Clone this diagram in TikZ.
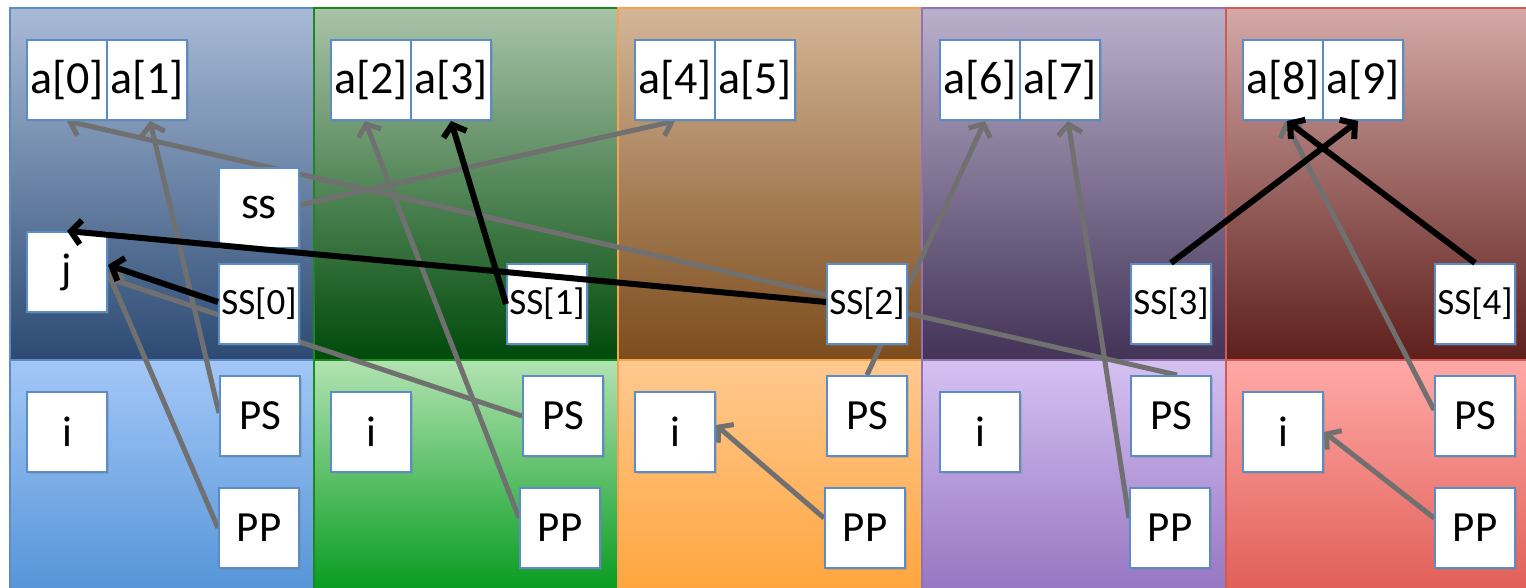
\documentclass[tikz,border=0pt]{standalone}
\usepackage{fontspec}
\setmainfont{Carlito}
\usetikzlibrary{arrows.meta,shadows}
\definecolor{boxblue}{RGB}{91,140,197}
\definecolor{arrgray}{RGB}{112,112,112}
% column colours: top-top, top-bottom, bottom-top, bottom-bottom, border
\definecolor{bTT}{HTML}{A8BBD7}\definecolor{bTB}{HTML}{2C4A73}\definecolor{bBT}{HTML}{A3C7F7}\definecolor{bBB}{HTML}{5393D7}\definecolor{bBD}{HTML}{5B8CC5}
\definecolor{gTT}{HTML}{A9C4A9}\definecolor{gTB}{HTML}{004A0A}\definecolor{gBT}{HTML}{B2E3B2}\definecolor{gBB}{HTML}{00991A}\definecolor{gBD}{HTML}{1A8A1A}
\definecolor{oTT}{HTML}{D4B698}\definecolor{oTB}{HTML}{7C4C1C}\definecolor{oBT}{HTML}{FFC990}\definecolor{oBB}{HTML}{FFA43B}\definecolor{oBD}{HTML}{F7A24D}
\definecolor{pTT}{HTML}{BAB0CC}\definecolor{pTB}{HTML}{433357}\definecolor{pBT}{HTML}{D5C1F2}\definecolor{pBB}{HTML}{9473C0}\definecolor{pBD}{HTML}{8F73B5}
\definecolor{rTT}{HTML}{D4A9A7}\definecolor{rTB}{HTML}{5E1F1B}\definecolor{rBT}{HTML}{FFA9A6}\definecolor{rBB}{HTML}{E05C55}\definecolor{rBD}{HTML}{D25A50}
\pgfdeclarelayer{back}\pgfdeclarelayer{mid}\pgfdeclarelayer{front}
\pgfsetlayers{back,mid,main,front}
\newcommand\mypanel[2]{% #1 = left x, #2 = colour prefix
  \shade[top color=#2TT, bottom color=#2TB] (#1,8) rectangle ++(304,352);
  \draw[#2BD, line width=1.5pt] (#1,8) rectangle ++(304,352);
  \shade[top color=#2BT, bottom color=#2BB] (#1,360) rectangle ++(304,240);
  \draw[#2BD, line width=1.5pt] (#1,360) rectangle ++(304,240);
}
\begin{document}
\begin{tikzpicture}[x=1pt,y=-1pt,
  cell/.style={rectangle, draw=boxblue, line width=2pt, fill=white,
    minimum width=80pt, minimum height=80pt, inner sep=0pt,
    drop shadow={opacity=0.3, shadow xshift=2pt, shadow yshift=-2pt}},
  big/.style={cell, font=\fontsize{46}{50}\selectfont},
  mid/.style={cell, font=\fontsize{43}{48}\selectfont},
  small/.style={cell, font=\fontsize{37}{40}\selectfont},
  garrow/.style={draw=arrgray, line width=5pt, -{Straight Barb[length=10pt,width=24pt]}},
  barrow/.style={draw=black, line width=6pt, -{Straight Barb[length=10pt,width=24pt]}},
]
\useasboundingbox (0,0) rectangle (1526,588);
\clip (0,0) rectangle (1526,588);
\begin{pgfonlayer}{back}
  \fill[white] (0,0) rectangle (1526,588);
  \mypanel{10}{b}
  \mypanel{314}{g}
  \mypanel{618}{o}
  \mypanel{922}{p}
  \mypanel{1226}{r}
\end{pgfonlayer}

% array cells
\node[big] (a0) at (67,80) {a[0]};
\node[big] (a1) at (147,80) {a[1]};
\node[big] (a2) at (371,80) {a[2]};
\node[big] (a3) at (451,80) {a[3]};
\node[big] (a4) at (675,80) {a[4]};
\node[big] (a5) at (755,80) {a[5]};
\node[big] (a6) at (980,80) {a[6]};
\node[big] (a7) at (1060,80) {a[7]};
\node[big] (a8) at (1283,80) {a[8]};
\node[big] (a9) at (1363,80) {a[9]};

% shared vars
\node[big] (ss) at (259,208) {ss};
\node[mid] (j) at (67,272) {j};
\node[small] (SS0) at (259,304) {SS[0]};
\node[small] (SS1) at (547,304) {SS[1]};
\node[small] (SS2) at (867,304) {SS[2]};
\node[small] (SS3) at (1171,304) {SS[3]};
\node[small] (SS4) at (1475,304) {SS[4]};

% private vars
\node[mid] (i0) at (67,432) {i};
\node[mid] (i1) at (371,432) {i};
\node[mid] (i2) at (675,432) {i};
\node[mid] (i3) at (980,432) {i};
\node[mid] (i4) at (1283,432) {i};
\node[mid] (PS0) at (260,416) {PS};
\node[mid] (PS1) at (563,416) {PS};
\node[mid] (PS2) at (867,416) {PS};
\node[mid] (PS3) at (1171,416) {PS};
\node[mid] (PS4) at (1475,416) {PS};
\node[mid] (PP0) at (259,528) {PP};
\node[mid] (PP1) at (560,528) {PP};
\node[mid] (PP2) at (865,528) {PP};
\node[mid] (PP3) at (1170,528) {PP};
\node[mid] (PP4) at (1475,528) {PP};

\begin{pgfonlayer}{mid}
  \draw[garrow] ([xshift=6pt]PS3.north) -- (a0.south);
  \draw[garrow] ([yshift=3pt]PS0.west) -- ([xshift=3pt]a1.south);
  \draw[garrow] ([yshift=3pt]ss.east) -- (a4.south);
  \draw[garrow] ([yshift=10pt]PP1.west) -- ([xshift=-6pt]a2.south);
  \draw[garrow] (PS1.west) -- ([yshift=-6pt]j.east);
  \draw[garrow] (PP0.west) -- (j.east);
  \draw[garrow] (PS2.north) -- ([xshift=5pt]a6.south);
  \draw[garrow] ([yshift=10pt]PP3.west) -- ([xshift=8pt]a7.south);
  \draw[garrow] ([yshift=6pt]PS4.west) -- ([xshift=2pt]a8.south);
  \draw[garrow] ([yshift=10pt]PP2.west) -- ([yshift=7pt]i2.east);
  \draw[garrow] ([yshift=10pt]PP4.west) -- (i4.east);
\end{pgfonlayer}

\begin{pgfonlayer}{front}
  \draw[barrow] (SS1.west) -- (a3.south);
  \draw[barrow] ([yshift=2pt]SS2.west) -- (j.north);
  \draw[barrow] ([yshift=2pt]SS0.west) -- ([yshift=7pt]j.east);
  \draw[barrow] (SS3.north) -- ([xshift=-5pt]a9.south);
  \draw[barrow] (SS4.north) -- ([xshift=4pt]a8.south);
\end{pgfonlayer}
\end{tikzpicture}
\end{document}
